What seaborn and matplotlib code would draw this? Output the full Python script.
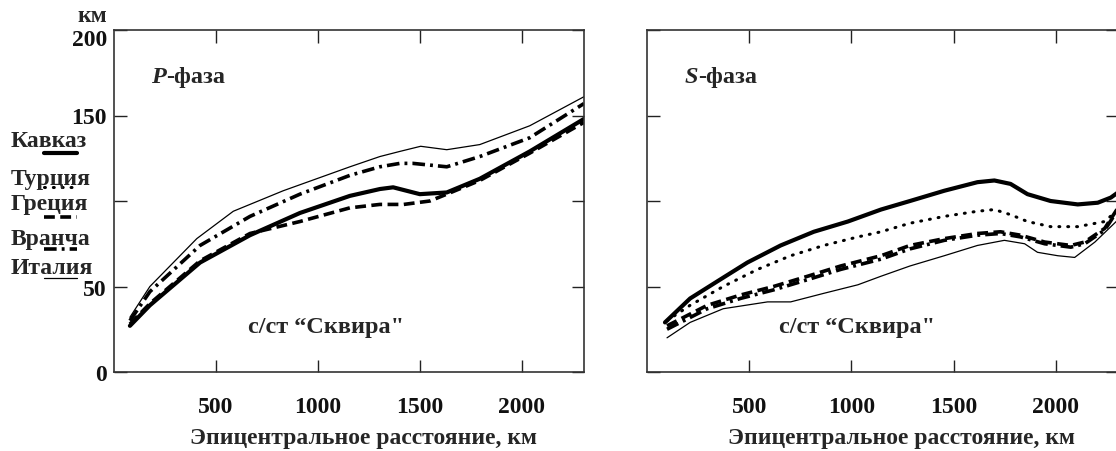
import pandas as pd
import matplotlib.pyplot as plt
import seaborn as sns
from matplotlib.lines import Line2D
from matplotlib.transforms import ScaledTranslation

sns.set_style('white')
plt.rcParams['font.family'] = ['Liberation Serif', 'DejaVu Serif']
plt.rcParams['font.weight'] = 'bold'

# P-фаза
p_italy_x = [78, 176, 406, 585, 830, 1157, 1304, 1402, 1504, 1632, 1794, 2039, 2305]
p_italy_y = [32, 50, 78, 94, 106, 120, 126, 129, 132, 130, 133, 144, 161]
p_vrancha_x = [78, 176, 422, 667, 912, 1157, 1304, 1402, 1466, 1632, 1794, 2039, 2305]
p_vrancha_y = [30, 47, 74, 91, 104, 115, 120, 122, 122, 120, 126, 137, 157]
p_kavkaz_x = [78, 176, 422, 667, 912, 1157, 1304, 1369, 1500, 1632, 1794, 2039, 2305]
p_kavkaz_y = [27, 39, 64, 80, 93, 103, 107, 108, 104, 105, 113, 129, 148]
p_greece_x = [78, 176, 422, 667, 912, 1157, 1304, 1421, 1549, 1632, 1794, 2039, 2305]
p_greece_y = [28, 40, 65, 81, 88, 96, 98, 98, 100, 104, 112, 128, 146]

# S-фаза
s_kavkaz_x = [88, 211, 344, 491, 654, 816, 983, 1145, 1287, 1455, 1617, 1700, 1779, 1862, 1975, 2108, 2206, 2270, 2305]
s_kavkaz_y = [29, 43, 53, 64, 74, 82, 88, 95, 100, 106, 111, 112, 110, 104, 100, 98, 99, 102, 105]
s_turkey_x = [98, 211, 373, 541, 703, 865, 1032, 1145, 1287, 1455, 1617, 1700, 1779, 1862, 1975, 2108, 2240, 2305]
s_turkey_y = [30, 39, 50, 60, 68, 74, 79, 82, 87, 91, 94, 95, 92, 88, 85, 85, 88, 95]
s_greece_x = [98, 295, 457, 619, 786, 948, 1145, 1287, 1455, 1617, 1730, 1828, 1946, 2074, 2142, 2240, 2305]
s_greece_y = [27, 39, 45, 50, 56, 62, 68, 74, 78, 81, 82, 80, 76, 74, 76, 84, 96]
s_vrancha_x = [98, 295, 457, 619, 786, 948, 1145, 1287, 1455, 1617, 1730, 1828, 1946, 2074, 2142, 2240, 2305]
s_vrancha_y = [25, 37, 43, 48, 54, 60, 66, 72, 77, 80, 81, 79, 75, 73, 75, 83, 95]
s_italy_x = [98, 211, 373, 590, 703, 865, 1032, 1145, 1287, 1455, 1617, 1749, 1848, 1911, 2010, 2093, 2192, 2305]
s_italy_y = [20, 29, 37, 41, 41, 46, 51, 56, 62, 68, 74, 77, 75, 70, 68, 67, 76, 89]

x_ticks = [500, 1000, 1500, 2000]
y_ticks = [0, 50, 100, 150, 200]
y_tick_labels = ['0', '50', '', '150', '200']
regions = ['Кавказ', 'Турция', 'Греция', 'Вранча', 'Италия']

styles = {
    'Кавказ': dict(linewidth=3.0, linestyle='-'),
    'Турция': dict(linewidth=2.2, linestyle=(0, (0.3, 2.6)), dash_capstyle='round'),
    'Греция': dict(linewidth=2.6, linestyle=(0, (3.0, 1.5))),
    'Вранча': dict(linewidth=2.6, linestyle=(0, (3.5, 1.4, 0.8, 1.4))),
    'Италия': dict(linewidth=0.9, linestyle='-'),
}

p_series = {
    'Кавказ': (p_kavkaz_x, p_kavkaz_y),
    'Греция': (p_greece_x, p_greece_y),
    'Вранча': (p_vrancha_x, p_vrancha_y),
    'Италия': (p_italy_x, p_italy_y),
}
s_series = {
    'Кавказ': (s_kavkaz_x, s_kavkaz_y),
    'Турция': (s_turkey_x, s_turkey_y),
    'Греция': (s_greece_x, s_greece_y),
    'Вранча': (s_vrancha_x, s_vrancha_y),
    'Италия': (s_italy_x, s_italy_y),
}

W, H = 1116, 452
FS = 17
fig = plt.figure(figsize=(W / 100, H / 100), dpi=100)
ax_p = fig.add_axes([114 / W, 79 / H, 470 / W, 342 / H])
ax_s = fig.add_axes([647 / W, 79 / H, 471 / W, 342 / H])


def draw_panel(ax, series, phase, show_y, label_x, note_x):
    for name, (xs, ys) in series.items():
        df = pd.DataFrame({'x': xs, 'y': ys})
        sns.lineplot(data=df, x='x', y='y', ax=ax, color='black', **styles[name])
    ax.set_xlim(0, 2305)
    ax.set_ylim(0, 200)
    ax.set_xticks(x_ticks)
    ax.set_xticklabels([str(t) for t in x_ticks], fontsize=FS, fontweight='bold')
    ax.set_yticks(y_ticks)
    if show_y:
        ax.set_yticklabels(y_tick_labels, fontsize=FS, fontweight='bold')
    else:
        ax.set_yticklabels([])
    ax.tick_params(direction='in', length=9, width=1, top=True, right=True,
                   bottom=True, left=True, colors='#222222', labelcolor='#111111')
    ax.tick_params(axis='y', pad=5)
    ax.tick_params(axis='x', pad=17)
    for sp in ax.spines.values():
        sp.set_linewidth(1.2)
        sp.set_color('#333333')
    ax.set_xlabel('Эпицентральное расстояние, км', fontsize=FS, fontweight='bold', labelpad=10)
    ax.xaxis.set_label_coords(label_x, -0.16)
    ax.set_ylabel('')
    t = ax.text(0.079, 0.848, phase, transform=ax.transAxes, fontsize=FS + 0.5,
                fontweight='bold', fontstyle='italic', va='baseline')
    ax.annotate('-фаза', xy=(1, 0), xycoords=t, fontsize=FS + 0.5, fontweight='bold',
                va='bottom', ha='left')
    ax.text(note_x, 0.117, 'с/ст “Сквира"', transform=ax.transAxes, fontsize=FS + 0.5,
            fontweight='bold', ha='center', va='baseline')


draw_panel(ax_p, p_series, 'P', True, 0.53, 0.451)
draw_panel(ax_s, s_series, 'S', False, 0.54, 0.447)

# the top label sits a little lower in the reference
top_lab = ax_p.get_yticklabels()[-1]
top_lab.set_transform(top_lab.get_transform() + ScaledTranslation(0, -7 / 100, fig.dpi_scale_trans))

fig.text(107 / W, 1 - 16 / H, 'км', fontsize=FS, fontweight='bold', ha='right', va='center')

# legend on the left
text_y = [142, 180, 205, 240, 268]
line_y = [154, 188, 218, 250, 279]
for name, ty, ly in zip(regions, text_y, line_y):
    fig.text(11 / W, 1 - ty / H, name, fontsize=FS, fontweight='bold', ha='left', va='center')
    st = dict(styles[name])
    fig.add_artist(Line2D([44 / W, 77 / W], [1 - ly / H, 1 - ly / H], color='black',
                          transform=fig.transFigure, **st))

fig.savefig('out.png', dpi=100)
plt.close(fig)
